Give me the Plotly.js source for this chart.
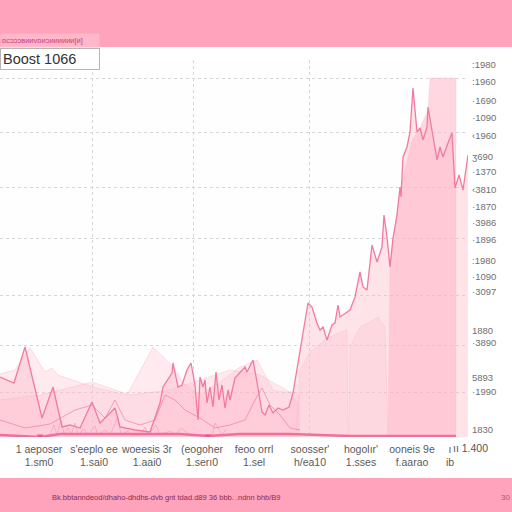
<!DOCTYPE html>
<html><head><meta charset="utf-8">
<script src="https://cdn.plot.ly/plotly-3.0.1.min.js"></script>
<style>html,body{margin:0;padding:0;background:#fff}#c{width:512px;height:512px}</style>
</head><body><div id="c"></div>
<script>
// ---- data (x = session index, y = index level) ----
const mainX = [0,14,25,42,53,62,70,80,92,100,115,120,135,150,160,163,172,173,178,182,187,191,195,198,200,203,205,207,210,213,216,219,222,225,228,230,235,240,245,247,251,253,257,262,265,269,273,278,283,289,293,298,302,308,312,317,320,323,327,332,335,338,340,350,355,360,363,367,372,377,382,384,387,390,393,397,400,401,403,407,410,413,417,420,423,427,428,432,437,440,443,448,452,455,459,463,468];
const mainY = [60,54,90,19,50,10,12,9,35,14,29,10,7,5,34,50,64,74,50,52,67,74,52,17,60,50,57,34,50,30,65,37,52,29,47,37,59,65,70,65,74,77,55,25,22,32,24,29,27,30,44,74,94,134,130,114,107,110,97,112,114,132,120,127,140,165,150,147,192,175,190,222,200,170,199,222,250,240,280,290,305,349,305,309,297,310,330,307,277,290,280,294,304,249,262,247,282];

const secX = [0,25,50,75,92,105,115,125,140,155,165,175,185,200,215,230,245,255,262,270,280,290,300];
const secY = [17,9,13,27,32,19,37,17,12,17,42,37,27,19,9,12,17,37,49,32,22,9,7];

const areaAX = [0,15,30,45,52,58,93,127,153,173,183,200,220,240,257,273,283,293,300];
const areaAY = [63,67,89,65,69,62,50,42,90,70,54,42,55,70,77,47,45,45,40];

const areaFX = [0,40,80,92,130,170,200,230,260,290,300];
const areaFY = [37,42,52,55,42,47,57,67,62,45,30];

const areaC1X = [296,300,310,325,340,347,348];
const areaC1Y = [0,67,85,97,105,107,0];
const areaC2X = [349,350,360,370,378,385,388];
const areaC2Y = [0,90,110,115,120,110,0];

const blockX = [388,390,400,412,420,428,430,456,456];
const blockY = [0,172,247,297,309,327,359,359,0];

const noiseX = [50,54,57,61,64,68,71,75,78,84,88,95,98,105,110,118,121,128,131,140,145,148,156,160,170,176,181,190,212,215,222,226];
const noiseY = [2,12,2,17,3,9,2,14,2,8,2,11,2,7,2,20,2,6,2,2,10,2,12,2,6,2,9,2,2,14,2,8];

const baseX = [0,40,60,120,180,208,240,290,350,456];
const baseY = [2,0,3,3,3,1,3,3,1,1];
const markX = [40,208];
const markY = [1,1];

// ---- tick labels ----
const xTickVals = [0,39,94,147,202,254,310,361,412,450];
const xTickText = ["sae<br> ","1 aeposer<br>1.sm0","s'eeplo ee<br>1.sai0","woeesis 3r<br>1.aai0","(eogoher<br>1.serı0","feoo orrl<br>1.sel","soosser'<br>h/ea10","hogolır'<br>1.sses","ooneis 9e<br>f.aarao","ı<br>ib"];
const yGridVals = [45,92,142,199,250,305,359];
const xGridVals = [92,193,309];
const yLabelVals = [372,355,336,319,301,280,265,247,230,214,197,176,160,145,106,94,59,45,7];
const yLabelText = [":1980",":1960","·1690","·1090","‹1960","ʒ690","·1370","‹3810","·1870","·3986","·1896",":1980","·1090","·3097","1880","·3890","5893","·1990","1830"];

const pink = '#f27aa0';
const traces = [
  {x:areaAX,y:areaAY,type:'scatter',mode:'lines',fill:'tozeroy',line:{color:'rgba(245,150,180,0.35)',width:0.8},fillcolor:'rgba(255,190,205,0.30)',hoverinfo:'skip'},
  {x:areaFX,y:areaFY,type:'scatter',mode:'lines',fill:'tozeroy',line:{color:'rgba(245,150,180,0.35)',width:0.8},fillcolor:'rgba(255,190,205,0.30)',hoverinfo:'skip'},
  {x:areaC1X,y:areaC1Y,type:'scatter',mode:'lines',fill:'tozeroy',line:{color:'rgba(245,150,180,0.3)',width:0.8},fillcolor:'rgba(255,205,215,0.35)',hoverinfo:'skip'},
  {x:areaC2X,y:areaC2Y,type:'scatter',mode:'lines',fill:'tozeroy',line:{color:'rgba(245,150,180,0.3)',width:0.8},fillcolor:'rgba(255,205,215,0.35)',hoverinfo:'skip'},
  {x:blockX,y:blockY,type:'scatter',mode:'lines',fill:'tozeroy',line:{color:'rgba(245,150,180,0.3)',width:0.5},fillcolor:'rgba(255,182,198,0.55)',hoverinfo:'skip'},
  {x:mainX,y:mainY,type:'scatter',mode:'lines',fill:'tozeroy',line:{color:pink,width:1.3},fillcolor:'rgba(255,178,196,0.35)',hoverinfo:'skip'},
  {x:secX,y:secY,type:'scatter',mode:'lines',line:{color:'rgba(240,110,155,0.6)',width:1},hoverinfo:'skip'},
  {x:noiseX,y:noiseY,type:'scatter',mode:'lines',line:{color:'rgba(240,110,155,0.5)',width:0.7},hoverinfo:'skip'},
  {x:baseX,y:baseY,type:'scatter',mode:'lines',line:{color:'#f06f9b',width:2.5},hoverinfo:'skip'},
  {x:markX,y:markY,xaxis:'x2',yaxis:'y2',type:'scatter',mode:'markers',marker:{symbol:'triangle-down',size:6,color:'#e75a8a'},hoverinfo:'skip'}
];

const py = v => (437 - v) / 377;   // helper for paper positions of decorations
const layout = {
  width:512,height:512,showlegend:false,
  margin:{l:0,r:44,t:60,b:75},
  paper_bgcolor:'#ffffff',plot_bgcolor:'#fefefe',
  font:{family:'Liberation Sans, Arial, sans-serif',color:'#555'},
  xaxis:{range:[0,468],tickvals:xTickVals,ticktext:xTickText,showgrid:false,zeroline:false,showline:false,ticks:'',ticklabelstandoff:4,tickfont:{size:10.5,color:'#5a5a5a'},fixedrange:true},
  xaxis2:{overlaying:'x',range:[0,468],tickvals:xGridVals,showticklabels:false,showgrid:true,gridcolor:'#d6d6d6',griddash:'dot',gridwidth:1,zeroline:false,ticks:''},
  yaxis:{range:[0,377],tickvals:yGridVals,showticklabels:false,showgrid:true,gridcolor:'#d6d6d6',griddash:'dot',gridwidth:1,zeroline:false,ticks:''},
  yaxis2:{overlaying:'y',side:'right',range:[0,377],tickvals:yLabelVals,ticktext:yLabelText,showgrid:false,zeroline:false,ticks:'',ticklabelstandoff:3,tickfont:{size:9.5,color:'#6f6f6f'}},
  shapes:[
    {type:'rect',xref:'paper',yref:'paper',x0:-0.01,x1:1.11,y0:py(47),y1:py(-5),fillcolor:'#ffa2bc',line:{width:0},layer:'above'},
    {type:'rect',xref:'paper',yref:'paper',x0:-0.01,x1:1.11,y0:py(478),y1:py(517),fillcolor:'#ffa3bd',line:{width:0},layer:'above'}
  ],
  annotations:[
    {xref:'paper',yref:'paper',x:0,xanchor:'left',y:py(40.5),yanchor:'middle',text:'ɒcɔɔɔʙᴎᴎvɒᴎɔᴎᴎᴎᴎᴎᴎ[ᴎ]',showarrow:false,font:{size:7.5,color:'#c8407a'},bgcolor:'#ffb7ca',width:96,height:11,align:'left'},
    {xref:'paper',yref:'paper',x:0,xanchor:'left',y:py(59),yanchor:'middle',text:'Boost 1066',showarrow:false,font:{size:14.5,color:'#333'},bgcolor:'#ffffff',bordercolor:'#b5b5b5',borderwidth:1,borderpad:2,width:94,height:16,align:'left'},
    {xref:'paper',yref:'paper',x:470/468,xanchor:'center',y:py(448),yanchor:'middle',text:'ıı 1.400',showarrow:false,font:{size:10.5,color:'#555'}},
    {xref:'paper',yref:'paper',x:50/468,xanchor:'left',y:py(497),yanchor:'middle',text:'Bk.bbtanndeod/dhaho-dhdhs-dvb gnt tdad.d89 36 bbb. .ndnn bhb/B9',showarrow:false,font:{size:7.5,color:'#8b2c50'}},
    {xref:'paper',yref:'paper',x:505/468,xanchor:'center',y:py(497),yanchor:'middle',text:'30',showarrow:false,font:{size:8,color:'#c05070'}}
  ]
};
Plotly.newPlot('c',traces,layout,{staticPlot:true,displayModeBar:false});
</script></body></html>
